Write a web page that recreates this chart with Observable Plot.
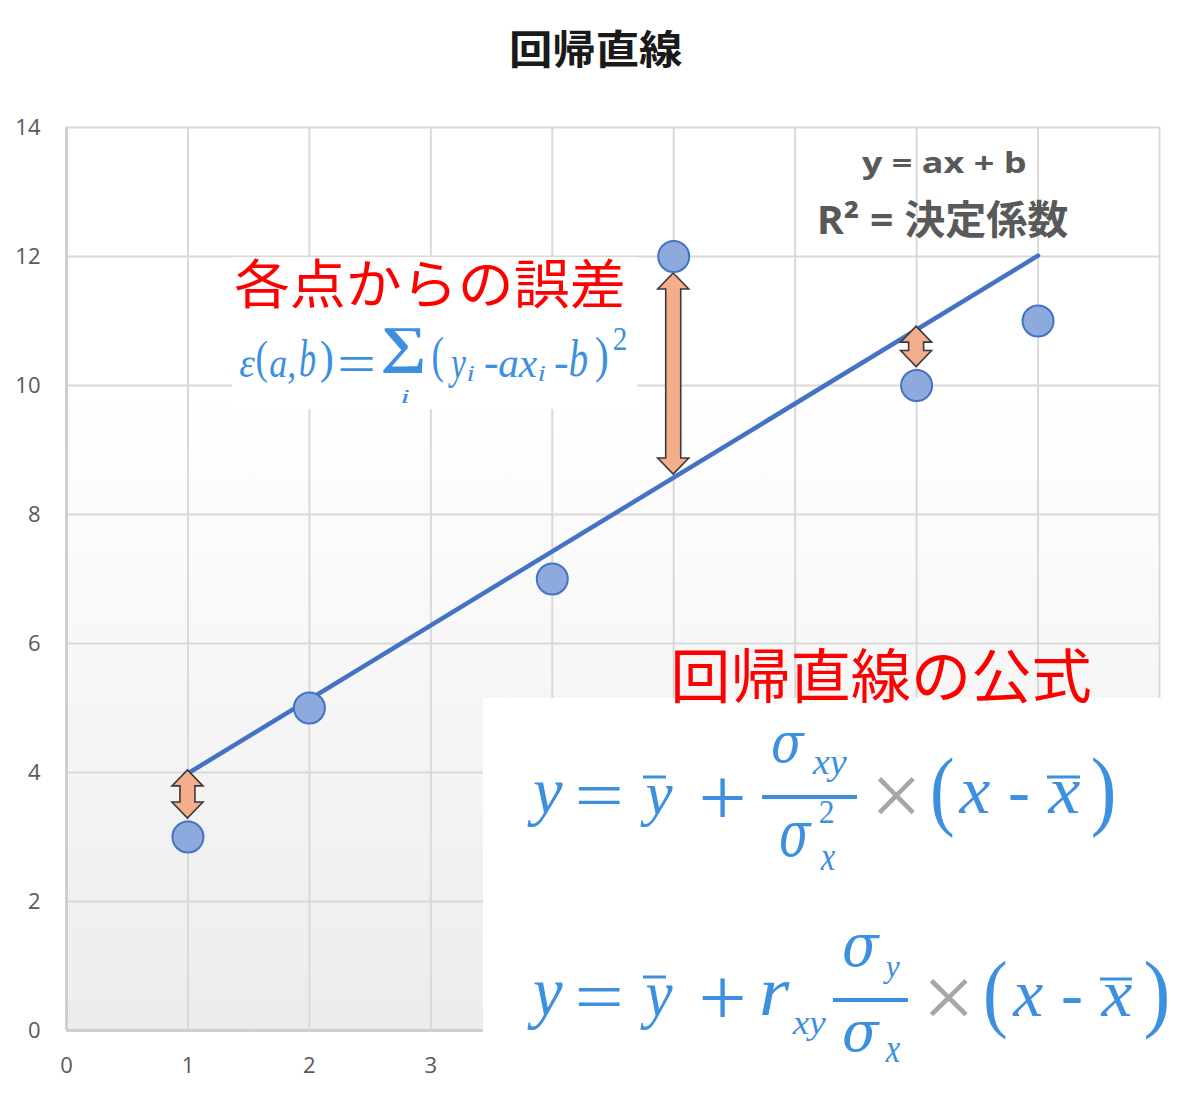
<!DOCTYPE html>
<html>
<head>
<meta charset="utf-8">
<script src="https://cdn.jsdelivr.net/npm/d3@7"></script>
<script src="https://cdn.jsdelivr.net/npm/@observablehq/plot@0.6"></script>
<style>
  body { margin: 0; background: #fff; }
  #wrap { position: relative; width: 1191px; height: 1093px; overflow: hidden; background: #fff; }
  #chart { position: absolute; left: 0; top: 90px; }
  #ov { position: absolute; left: 0; top: 0; pointer-events: none; }
</style>
</head>
<body>
<div id="wrap">
  <div id="chart"></div>
  <svg id="ov" width="1191" height="1093" xmlns="http://www.w3.org/2000/svg"></svg>
</div>
<script>
// ---------------- data ----------------
const xValues = [1, 2, 4, 5, 7, 8];
const yValues = [3, 5, 7, 12, 10, 11];
const errorX = [1, 5, 7];               // points with residual arrows
const xGrid = [0, 1, 2, 3, 4, 5, 6, 7, 8, 9];
const xLabels = [0, 1, 2, 3];
const yTicks = [0, 2, 4, 6, 8, 10, 12, 14];

const points = xValues.map((x, i) => ({x, y: yValues[i]}));
// least-squares line from the data (same as the trendline)
const mx = d3.mean(xValues), my = d3.mean(yValues);
const slope = d3.sum(points, d => (d.x - mx) * (d.y - my)) / d3.sum(points, d => (d.x - mx) ** 2);
const intercept = my - slope * mx;
const arrows = errorX.map(x => ({x, yPoint: yValues[xValues.indexOf(x)], yLine: intercept + slope * x}));

const DOT_R = 15.5;

const bgMark = (index, scales, values, dims) => {
  const g = d3.create("svg:g");
  const lg = g.append("defs").append("linearGradient")
    .attr("id", "plotBg").attr("x1", 0).attr("y1", 0).attr("x2", 0).attr("y2", 1);
  lg.append("stop").attr("offset", "0").attr("stop-color", "#ffffff");
  lg.append("stop").attr("offset", "0.3").attr("stop-color", "#ffffff");
  lg.append("stop").attr("offset", "1").attr("stop-color", "#ececec");
  g.append("rect")
    .attr("x", dims.marginLeft).attr("y", dims.marginTop)
    .attr("width", dims.width - dims.marginLeft - dims.marginRight)
    .attr("height", dims.height - dims.marginTop - dims.marginBottom)
    .attr("fill", "url(#plotBg)");
  return g.node();
};

const arrowMark = (index, scales) => {
  const g = d3.create("svg:g");
  const hw = 31, hh = 16, sw = 15;
  for (const a of arrows) {
    const px = scales.x(a.x), pp = scales.y(a.yPoint), pl = scales.y(a.yLine);
    let t, b;
    if (pp < pl) { t = pp + DOT_R + 1.5; b = pl - 3; }
    else { t = pl - 3; b = pp - DOT_R - 3; }
    const d = [
      [px, t], [px + hw / 2, t + hh], [px + sw / 2, t + hh], [px + sw / 2, b - hh],
      [px + hw / 2, b - hh], [px, b], [px - hw / 2, b - hh], [px - sw / 2, b - hh],
      [px - sw / 2, t + hh], [px - hw / 2, t + hh]
    ];
    g.append("path")
      .attr("d", "M" + d.map(p => p.join(",")).join("L") + "Z")
      .attr("fill", "#f4ae8c").attr("stroke", "#3a3a3a").attr("stroke-width", 1.6)
      .attr("stroke-linejoin", "miter");
  }
  return g.node();
};

const plot = Plot.plot({
  width: 1191, height: 1003,
  marginLeft: 66, marginRight: 32, marginTop: 37, marginBottom: 63,
  x: {domain: [0, 9]},
  y: {domain: [0, 14]},
  style: {fontFamily: "'Open Sans', sans-serif", fontSize: "22px", color: "#595959", background: "transparent", overflow: "visible"},
  marks: [
    bgMark,
    Plot.gridX(xGrid, {stroke: "#d9d9d9", strokeOpacity: 1, strokeWidth: 2}),
    Plot.gridY(yTicks, {stroke: "#d9d9d9", strokeOpacity: 1, strokeWidth: 2}),
    Plot.ruleX([0], {stroke: "#cfcfcf", strokeWidth: 3}),
    Plot.ruleY([0], {stroke: "#cfcfcf", strokeWidth: 3}),
    Plot.axisX(xLabels, {tickSize: 0, tickPadding: 27, label: null, fill: "#595959", tickFormat: d => `${d}`}),
    Plot.axisY(yTicks, {tickSize: 0, tickPadding: 26, label: null, fill: "#595959", tickFormat: d => `${d}`}),
    Plot.linearRegressionY(points, {x: "x", y: "y", stroke: "#4472c4", strokeWidth: 4.5, ci: 0}),
    arrowMark,
    Plot.dot(points, {x: "x", y: "y", r: DOT_R, fill: "#8eaadc", stroke: "#4472c4", strokeWidth: 2})
  ]
});
document.getElementById("chart").appendChild(plot);

// ---------------- overlay annotations ----------------
const ov = d3.select("#ov");
const ctx = document.createElement("canvas").getContext("2d");
const SERIF = '"Liberation Serif", "DejaVu Serif", serif';
const DSERIF = '"DejaVu Serif", "Liberation Serif", serif';
const SANS = '"Open Sans", "Noto Sans CJK JP", sans-serif';
const CJK = '"Noto Sans CJK JP", sans-serif';
const BLUE = "#3d8fe0", GRAY = "#a6a6a6", RED = "#ff0000", DARK = "#595959";

function fontStr(st, size) {
  return `${st.style || "normal"} ${st.weight || "normal"} ${size}px ${st.family}`;
}
// place text so that its ink box fills [x0,x1] x [y0,y1]
function fit(str, x0, x1, y0, y1, st) {
  const base = 100;
  ctx.font = fontStr(st, base);
  const m = ctx.measureText(str);
  const h = m.actualBoundingBoxAscent + m.actualBoundingBoxDescent;
  const w = m.actualBoundingBoxLeft + m.actualBoundingBoxRight;
  const k = (y1 - y0) / h;
  const fs = base * k;
  let sx = (x1 - x0) / (w * k);
  sx = Math.max(0.6, Math.min(1.8, sx));
  const by = y0 + m.actualBoundingBoxAscent * k;
  const ox = x0 + m.actualBoundingBoxLeft * k * sx;
  ov.append("text").text(str)
    .attr("transform", `translate(${ox},${by}) scale(${sx},1)`)
    .attr("font-family", st.family).attr("font-size", fs)
    .attr("font-style", st.style || "normal").attr("font-weight", st.weight || "normal")
    .attr("fill", st.color);
}
// fixed size text, ink left at x, baseline y
function put(str, x, y, fs, st) {
  ctx.font = fontStr(st, fs);
  const m = ctx.measureText(str);
  ov.append("text").text(str)
    .attr("x", x + m.actualBoundingBoxLeft).attr("y", y)
    .attr("font-family", st.family).attr("font-size", fs)
    .attr("font-style", st.style || "normal").attr("font-weight", st.weight || "normal")
    .attr("fill", st.color);
}
function bar(x0, x1, y, th, color) {
  ov.append("rect").attr("x", x0).attr("y", y - th / 2).attr("width", x1 - x0).attr("height", th).attr("fill", color);
}

const I = {family: SERIF, style: "italic", color: BLUE};
const R = {family: SERIF, color: BLUE};
const S = {family: DSERIF, style: "italic", color: BLUE};
const B = {family: SERIF, weight: "bold", color: BLUE};
const G = {family: SERIF, color: GRAY};

// white boxes behind the formulas
ov.append("rect").attr("x", 232).attr("y", 257).attr("width", 405).attr("height", 152).attr("fill", "#fff");
ov.append("rect").attr("x", 483).attr("y", 698).attr("width", 708).attr("height", 395).attr("fill", "#fff");

// title
fit("回帰直線", 512, 682, 30, 68, {family: CJK, weight: "bold", color: "#1a1a1a"});

// trendline labels
fit("y = ax + b", 862, 1025, 152, 180, {family: SANS, weight: "bold", color: DARK});
fit("R² = 決定係数", 820, 1068, 200, 238, {family: SANS, weight: "bold", color: DARK});

// red captions
fit("各点からの誤差", 235, 623, 258, 309, {family: CJK, color: RED});
fit("回帰直線の公式", 675, 1090, 647, 703, {family: CJK, color: RED});

// error formula
fit("ε", 240, 255, 357, 377, I);
fit("(", 257, 267, 340, 383, R);
fit("a,", 270, 294, 357, 384, I);
fit("b", 300, 315, 340, 377, I);
fit(")", 321, 332, 340, 383, R);
fit("=", 340, 373, 357, 371, R);
fit("∑", 383, 423, 328, 373, B);
fit("i", 402, 409, 390, 403, I);
fit("(", 433, 443, 337, 383, R);
fit("y", 448, 466, 357, 388, I);
fit("i", 468, 474, 366, 381, I);
put("-", 485, 377, 44, R);
fit("ax", 499, 537, 357, 377, I);
fit("i", 539, 545, 366, 381, I);
put("-", 555, 377, 44, R);
fit("b", 570, 587, 340, 377, I);
fit(")", 596, 607, 337, 383, R);
fit("2", 614, 626, 328, 350, R);

// regression formula 1
fit("y", 527, 563, 782, 827, I);
fit("=", 578, 620, 787, 804, R);
fit("y", 640, 673, 785, 827, I); bar(643, 666, 777, 3, BLUE);
fit("+", 702, 743, 778, 817, R);
fit("σ", 772, 805, 733, 763, S);
fit("xy", 812, 847, 757, 781, I);
bar(762, 857, 797, 4, BLUE);
fit("σ", 780, 812, 823, 857, S);
fit("2", 820, 833, 800, 823, R);
fit("x", 820, 835, 852, 870, I);
fit("×", 877, 915, 777, 815, G);
fit("(", 933, 953, 757, 838, R);
fit("x", 958, 990, 782, 813, I);
put("-", 1010, 813, 66, R);
fit("x", 1047, 1080, 782, 813, I); bar(1047, 1080, 777, 3, BLUE);
fit(")", 1093, 1113, 757, 838, R);

// regression formula 2
fit("y", 527, 563, 983, 1030, I);
fit("=", 578, 620, 988, 1006, R);
fit("y", 640, 673, 986, 1030, I); bar(643, 666, 977, 3, BLUE);
fit("+", 702, 743, 978, 1017, R);
fit("r", 762, 790, 982, 1015, I);
fit("xy", 792, 826, 1018, 1041, I);
bar(833, 908, 1000, 4, BLUE);
fit("σ", 843, 880, 935, 967, S);
fit("y", 883, 900, 962, 983, I);
fit("σ", 843, 880, 1022, 1052, S);
fit("x", 885, 900, 1043, 1062, I);
fit("×", 929, 968, 979, 1017, G);
fit("(", 986, 1006, 960, 1040, R);
fit("x", 1012, 1043, 985, 1016, I);
put("-", 1063, 1016, 66, R);
fit("x", 1100, 1132, 985, 1016, I); bar(1100, 1132, 979, 3, BLUE);
fit(")", 1146, 1167, 960, 1040, R);
</script>
</body>
</html>
